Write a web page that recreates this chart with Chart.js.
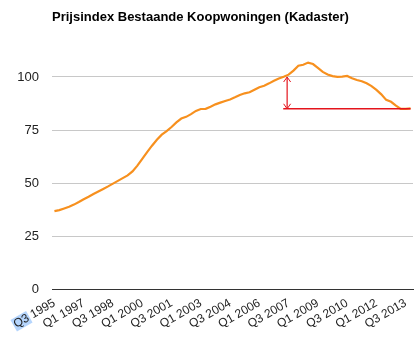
<!DOCTYPE html>
<html>
<head>
<meta charset="utf-8">
<script src="https://cdn.jsdelivr.net/npm/chart.js@4"></script>
<style>
  html, body { margin: 0; padding: 0; background: #fff; }
  #wrap { width: 414px; height: 340px; position: relative; }
</style>
</head>
<body>
<div id="wrap"><canvas id="pbk"></canvas></div>
<script>
/* ── gegevens ── */
const chartTitle = 'Prijsindex Bestaande Koopwoningen (Kadaster)';

const quarters = [
  'Q3 1995','Q4 1995',
  'Q1 1996','Q2 1996','Q3 1996','Q4 1996',
  'Q1 1997','Q2 1997','Q3 1997','Q4 1997',
  'Q1 1998','Q2 1998','Q3 1998','Q4 1998',
  'Q1 1999','Q2 1999','Q3 1999','Q4 1999',
  'Q1 2000','Q2 2000','Q3 2000','Q4 2000',
  'Q1 2001','Q2 2001','Q3 2001','Q4 2001',
  'Q1 2002','Q2 2002','Q3 2002','Q4 2002',
  'Q1 2003','Q2 2003','Q3 2003','Q4 2003',
  'Q1 2004','Q2 2004','Q3 2004','Q4 2004',
  'Q1 2005','Q2 2005','Q3 2005','Q4 2005',
  'Q1 2006','Q2 2006','Q3 2006','Q4 2006',
  'Q1 2007','Q2 2007','Q3 2007','Q4 2007',
  'Q1 2008','Q2 2008','Q3 2008','Q4 2008',
  'Q1 2009','Q2 2009','Q3 2009','Q4 2009',
  'Q1 2010','Q2 2010','Q3 2010','Q4 2010',
  'Q1 2011','Q2 2011','Q3 2011','Q4 2011',
  'Q1 2012','Q2 2012','Q3 2012','Q4 2012',
  'Q1 2013','Q2 2013','Q3 2013','Q4 2013',
];

const priceIndex = [
  36.7, 37.2,
  38.0, 38.8, 39.8, 41.0,
  42.3, 43.5, 44.8, 46.0,
  47.2, 48.4, 49.7, 51.0,
  52.3, 53.6, 55.5, 58.2,
  61.4, 64.6, 67.6, 70.4,
  72.8, 74.5, 76.4, 78.6,
  80.4, 81.2, 82.5, 84.0,
  84.9, 85.0, 86.0, 87.1,
  87.9, 88.7, 89.4, 90.4,
  91.5, 92.3, 92.8, 94.0,
  95.2, 95.9, 97.0, 98.2,
  99.3, 100.1, 101.1, 103.0,
  105.3, 105.8, 106.8, 106.1,
  104.3, 102.4, 101.2, 100.4,
  100.1, 100.2, 100.5, 99.4,
  98.6, 98.0, 97.0, 95.7,
  93.9, 91.8, 89.2, 88.3,
  86.5, 85.0, 85.0, 85.2,
];

const xTickLabels = [
  'Q3 1995','Q1 1997','Q3 1998','Q1 2000','Q3 2001','Q1 2003','Q3 2004',
  'Q1 2006','Q3 2007','Q1 2009','Q3 2010','Q1 2012','Q3 2013',
];
const yTickValues = [0, 25, 50, 75, 100];

/* annotatie: daling van 100 naar 85 */
const markHigh = 100;
const markLow  = 85;

/* ── opmaak ── */
const FONT   = 'Arial, "Liberation Sans", sans-serif';
const ORANGE = '#f7901e';
const RED    = '#e4141c';

/* titel linksboven, uitgelijnd met het plotgebied */
const titlePlugin = {
  id: 'titleLeft',
  afterDraw(chart) {
    const { ctx, chartArea } = chart;
    ctx.save();
    ctx.font = 'bold 13px ' + FONT;
    ctx.fillStyle = '#000';
    ctx.textAlign = 'left';
    ctx.textBaseline = 'alphabetic';
    ctx.fillText(chartTitle, chartArea.left, 20.5);
    ctx.restore();
  },
};

/* blauwe selectie achter "Q3" van het eerste label */
const selectPlugin = {
  id: 'selectFirst',
  beforeDraw(chart) {
    const xs = chart.scales.x;
    if (typeof xs.getLabelItems !== 'function') return;
    const item = xs.getLabelItems().find(it => it.label === xTickLabels[0]);
    if (!item) return;
    const { ctx } = chart;
    ctx.save();
    ctx.font = item.font.string;
    const full = ctx.measureText(item.label).width;
    const part = ctx.measureText('Q3').width;
    ctx.translate(item.options.translation[0], item.options.translation[1]);
    ctx.rotate(item.options.rotation);
    ctx.fillStyle = '#b5d5fd';
    const h = item.font.size + 1;
    ctx.fillRect(-full - 1, item.textOffset - h / 2, part + 2, h);
    ctx.restore();
  },
};

/* rode pijl en referentielijn */
const arrowPlugin = {
  id: 'dropArrow',
  afterDatasetsDraw(chart) {
    const { ctx, scales: { x, y } } = chart;
    const ax  = x.getPixelForValue(47.7);
    const top = y.getPixelForValue(markHigh);
    const bot = y.getPixelForValue(markLow);
    ctx.save();
    ctx.strokeStyle = RED;

    /* horizontale lijn op 85 */
    ctx.lineWidth = 1.5;
    ctx.beginPath();
    ctx.moveTo(x.getPixelForValue(46.9), bot);
    ctx.lineTo(x.getPixelForValue(73), bot);
    ctx.stroke();

    /* verticale pijl */
    ctx.lineWidth = 1.2;
    ctx.beginPath();
    ctx.moveTo(ax, top);
    ctx.lineTo(ax, bot);
    ctx.stroke();

    ctx.lineWidth = 1;
    ctx.beginPath();
    ctx.moveTo(ax - 3.5, top + 5);
    ctx.lineTo(ax, top);
    ctx.lineTo(ax + 3.5, top + 5);
    ctx.moveTo(ax - 3.5, bot - 5);
    ctx.lineTo(ax, bot);
    ctx.lineTo(ax + 3.5, bot - 5);
    ctx.stroke();
    ctx.restore();
  },
};

new Chart(document.getElementById('pbk'), {
  type: 'line',
  data: {
    labels: quarters,
    datasets: [{
      data           : priceIndex,
      borderColor    : ORANGE,
      borderWidth    : 2.2,
      pointRadius    : 0,
      tension        : 0,
      fill           : false,
    }],
  },
  options: {
    responsive         : true,
    maintainAspectRatio: false,
    animation          : false,
    layout: { padding: { top: 24, right: 1, left: 0, bottom: 0 } },
    plugins: {
      legend : { display: false },
      tooltip: { enabled: false },
      title  : { display: false },
    },
    scales: {
      x: {
        offset: true,
        grid  : { display: false },
        border: { display: true, color: '#333', width: 1 },
        afterFit: s => { s.height = 51; },
        ticks : {
          autoSkip   : false,
          minRotation: 30,
          maxRotation: 30,
          padding    : -1,
          color      : '#222',
          font       : { family: FONT, size: 12 },
          callback   : (v, i) => xTickLabels.includes(quarters[i]) ? quarters[i] : null,
        },
      },
      y: {
        min   : 0,
        max   : 125,
        border: { display: false },
        afterFit: s => { s.width = 52; },
        afterBuildTicks: s => {
          s.ticks = yTickValues.map(v => ({ value: v }));
        },
        grid  : {
          drawTicks: false,
          color    : ctx => ctx.tick.value === 0 ? '#333' : '#c8c8c8',
        },
        ticks : {
          padding: 13,
          color  : '#222',
          font   : { family: FONT, size: 13 },
        },
      },
    },
  },
  plugins: [titlePlugin, selectPlugin, arrowPlugin],
});
</script>
</body>
</html>
